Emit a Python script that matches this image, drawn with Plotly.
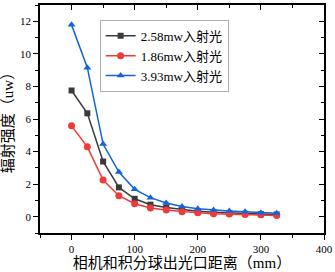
import plotly.graph_objects as go

distance_mm = [0, 25, 50, 75, 100, 125, 150, 175, 200, 225, 250, 275, 300, 325]
p258 = [7.75, 6.35, 3.39, 1.80, 1.10, 0.74, 0.57, 0.43, 0.33, 0.27, 0.22, 0.18, 0.16, 0.14]
p186 = [5.58, 4.29, 2.25, 1.29, 0.80, 0.53, 0.41, 0.31, 0.25, 0.18, 0.16, 0.14, 0.12, 0.08]
p393 = [11.78, 9.15, 4.46, 2.74, 1.68, 1.17, 0.84, 0.63, 0.49, 0.41, 0.35, 0.31, 0.25, 0.22]
series_names = ["2.58mw入射光", "1.86mw入射光", "3.93mw入射光"]
x_title = "相机和积分球出光口距离（mm）"
y_title = "辐射强度（uw）"

FONT = "Liberation Serif, Noto Sans CJK SC, serif"

fig = go.Figure()
styles = [("#3a3a3a", "square", 6), ("#ee3a3a", "circle", 7), ("#1463dc", "triangle-up", 7)]
for name, ys, (c, sym, sz) in zip(series_names, [p258, p186, p393], styles):
    fig.add_trace(go.Scatter(x=distance_mm, y=ys, name=name, mode="lines+markers",
                             line=dict(color=c, width=1.5),
                             marker=dict(color=c, symbol=sym, size=sz)))

fig.add_trace(go.Scatter(x=[None], y=[None], xaxis="x2", yaxis="y2", showlegend=False))

axis_common = dict(showgrid=False, zeroline=False, showline=True, linecolor="black",
                   linewidth=1.5, tickcolor="black", ticklen=5, tickwidth=1, automargin=False,
                   tickfont=dict(family=FONT, size=11, color="black"))

fig.update_layout(
    width=335, height=272,
    margin=dict(l=40, r=11, t=5, b=39),
    plot_bgcolor="white", paper_bgcolor="white",
    font=dict(family=FONT, color="black"),
    xaxis=dict(range=[-50, 400], tickvals=[0, 100, 200, 300, 400], ticks="outside",
               minor=dict(tickvals=[-50, 50, 150, 250, 350], ticks="outside", ticklen=3, tickcolor="black"),
               title=dict(text=x_title, font=dict(family=FONT, size=15), standoff=0),
               **axis_common),
    yaxis=dict(range=[-1, 13], tickvals=[0, 2, 4, 6, 8, 10, 12], ticks="outside",
               minor=dict(tickvals=[-1, 1, 3, 5, 7, 9, 11, 13], ticks="outside", ticklen=3, tickcolor="black"),
               title=dict(text=y_title, font=dict(family=FONT, size=15), standoff=4),
               **axis_common),
    xaxis2=dict(overlaying="x", side="top", range=[-50, 400], tickvals=[0, 100, 200, 300, 400],
                ticks="inside", showticklabels=False, anchor="y",
                minor=dict(tickvals=[-50, 50, 150, 250, 350], ticks="inside", ticklen=3, tickcolor="black"),
                **axis_common),
    yaxis2=dict(overlaying="y", side="right", range=[-1, 13], tickvals=[0, 2, 4, 6, 8, 10, 12],
                ticks="inside", showticklabels=False, anchor="x",
                minor=dict(tickvals=[-1, 1, 3, 5, 7, 9, 11, 13], ticks="inside", ticklen=3, tickcolor="black"),
                **axis_common),
    legend=dict(x=0.21, y=0.935, xanchor="left", yanchor="top",
                bordercolor="#b0b0b0", borderwidth=1, bgcolor="white",
                font=dict(family=FONT, size=13), itemwidth=30,
                tracegroupgap=0),
    showlegend=True,
)

fig.write_html("out.html", config={"displayModeBar": False},
               post_script="document.body.style.margin='0';")
